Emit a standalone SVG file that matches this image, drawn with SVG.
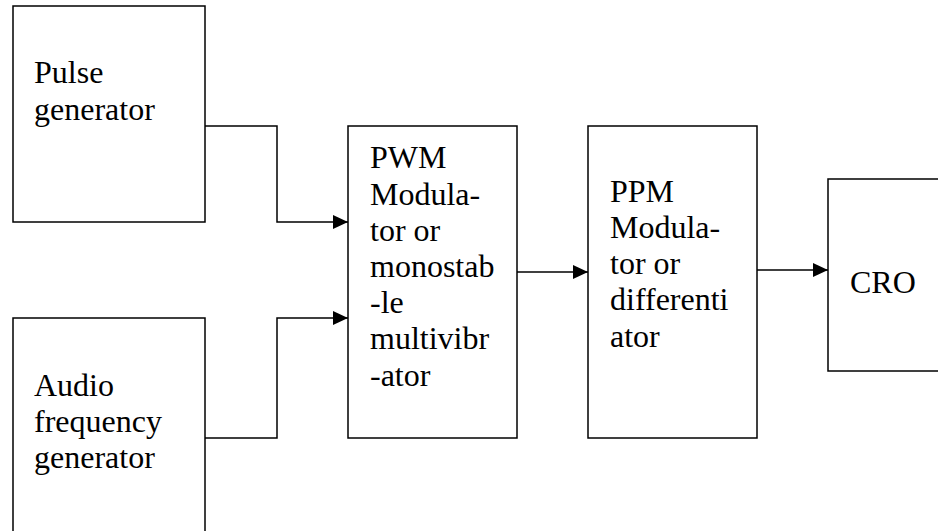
<svg xmlns="http://www.w3.org/2000/svg" width="938" height="531" viewBox="0 0 938 531">
<style>
.box{fill:#fff;stroke:#000;stroke-width:1.5}
.wire{fill:none;stroke:#000;stroke-width:1.5}
.t{font-size:32px;fill:#000;font-family:'Liberation Serif','Times New Roman',Times,'DejaVu Serif',serif}
</style>
<defs>
<marker id="arr" markerWidth="15" markerHeight="14" refX="15" refY="7" orient="auto" markerUnits="userSpaceOnUse">
<path d="M0,0 L15,7 L0,14 Z" fill="#000"/>
</marker>
</defs>
<rect width="938" height="531" fill="#fff"/>
<g id="pulse">
<rect class="box" x="13" y="6" width="192" height="216"/>
<text class="t" x="34" y="83">Pulse</text>
<text class="t" x="34" y="120">generator</text>
</g>
<g id="audio">
<rect class="box" x="13" y="318" width="192" height="230"/>
<text class="t" x="34" y="396">Audio</text>
<text class="t" x="34" y="432">frequency</text>
<text class="t" x="34" y="468">generator</text>
</g>
<g id="pwm">
<rect class="box" x="348" y="126" width="169" height="312"/>
<text class="t" x="370" y="168">PWM</text>
<text class="t" x="370" y="205">Modula-</text>
<text class="t" x="370" y="241">tor or</text>
<text class="t" x="370" y="277">monostab</text>
<text class="t" x="370" y="313">-le</text>
<text class="t" x="370" y="349">multivibr</text>
<text class="t" x="370" y="386">-ator</text>
</g>
<g id="ppm">
<rect class="box" x="588" y="126" width="169" height="312"/>
<text class="t" x="610" y="202">PPM</text>
<text class="t" x="610" y="238">Modula-</text>
<text class="t" x="610" y="274">tor or</text>
<text class="t" x="610" y="310">differenti</text>
<text class="t" x="610" y="347">ator</text>
</g>
<g id="cro">
<rect class="box" x="828" y="179" width="130" height="192"/>
<text class="t" x="850" y="293">CRO</text>
</g>
<g id="connectors">
<path class="wire" d="M205,126 H277 V222 H348" marker-end="url(#arr)"/>
<path class="wire" d="M205,438 H277 V318 H348" marker-end="url(#arr)"/>
<path class="wire" d="M517,272 H588" marker-end="url(#arr)"/>
<path class="wire" d="M757,270 H828" marker-end="url(#arr)"/>
</g>
</svg>
